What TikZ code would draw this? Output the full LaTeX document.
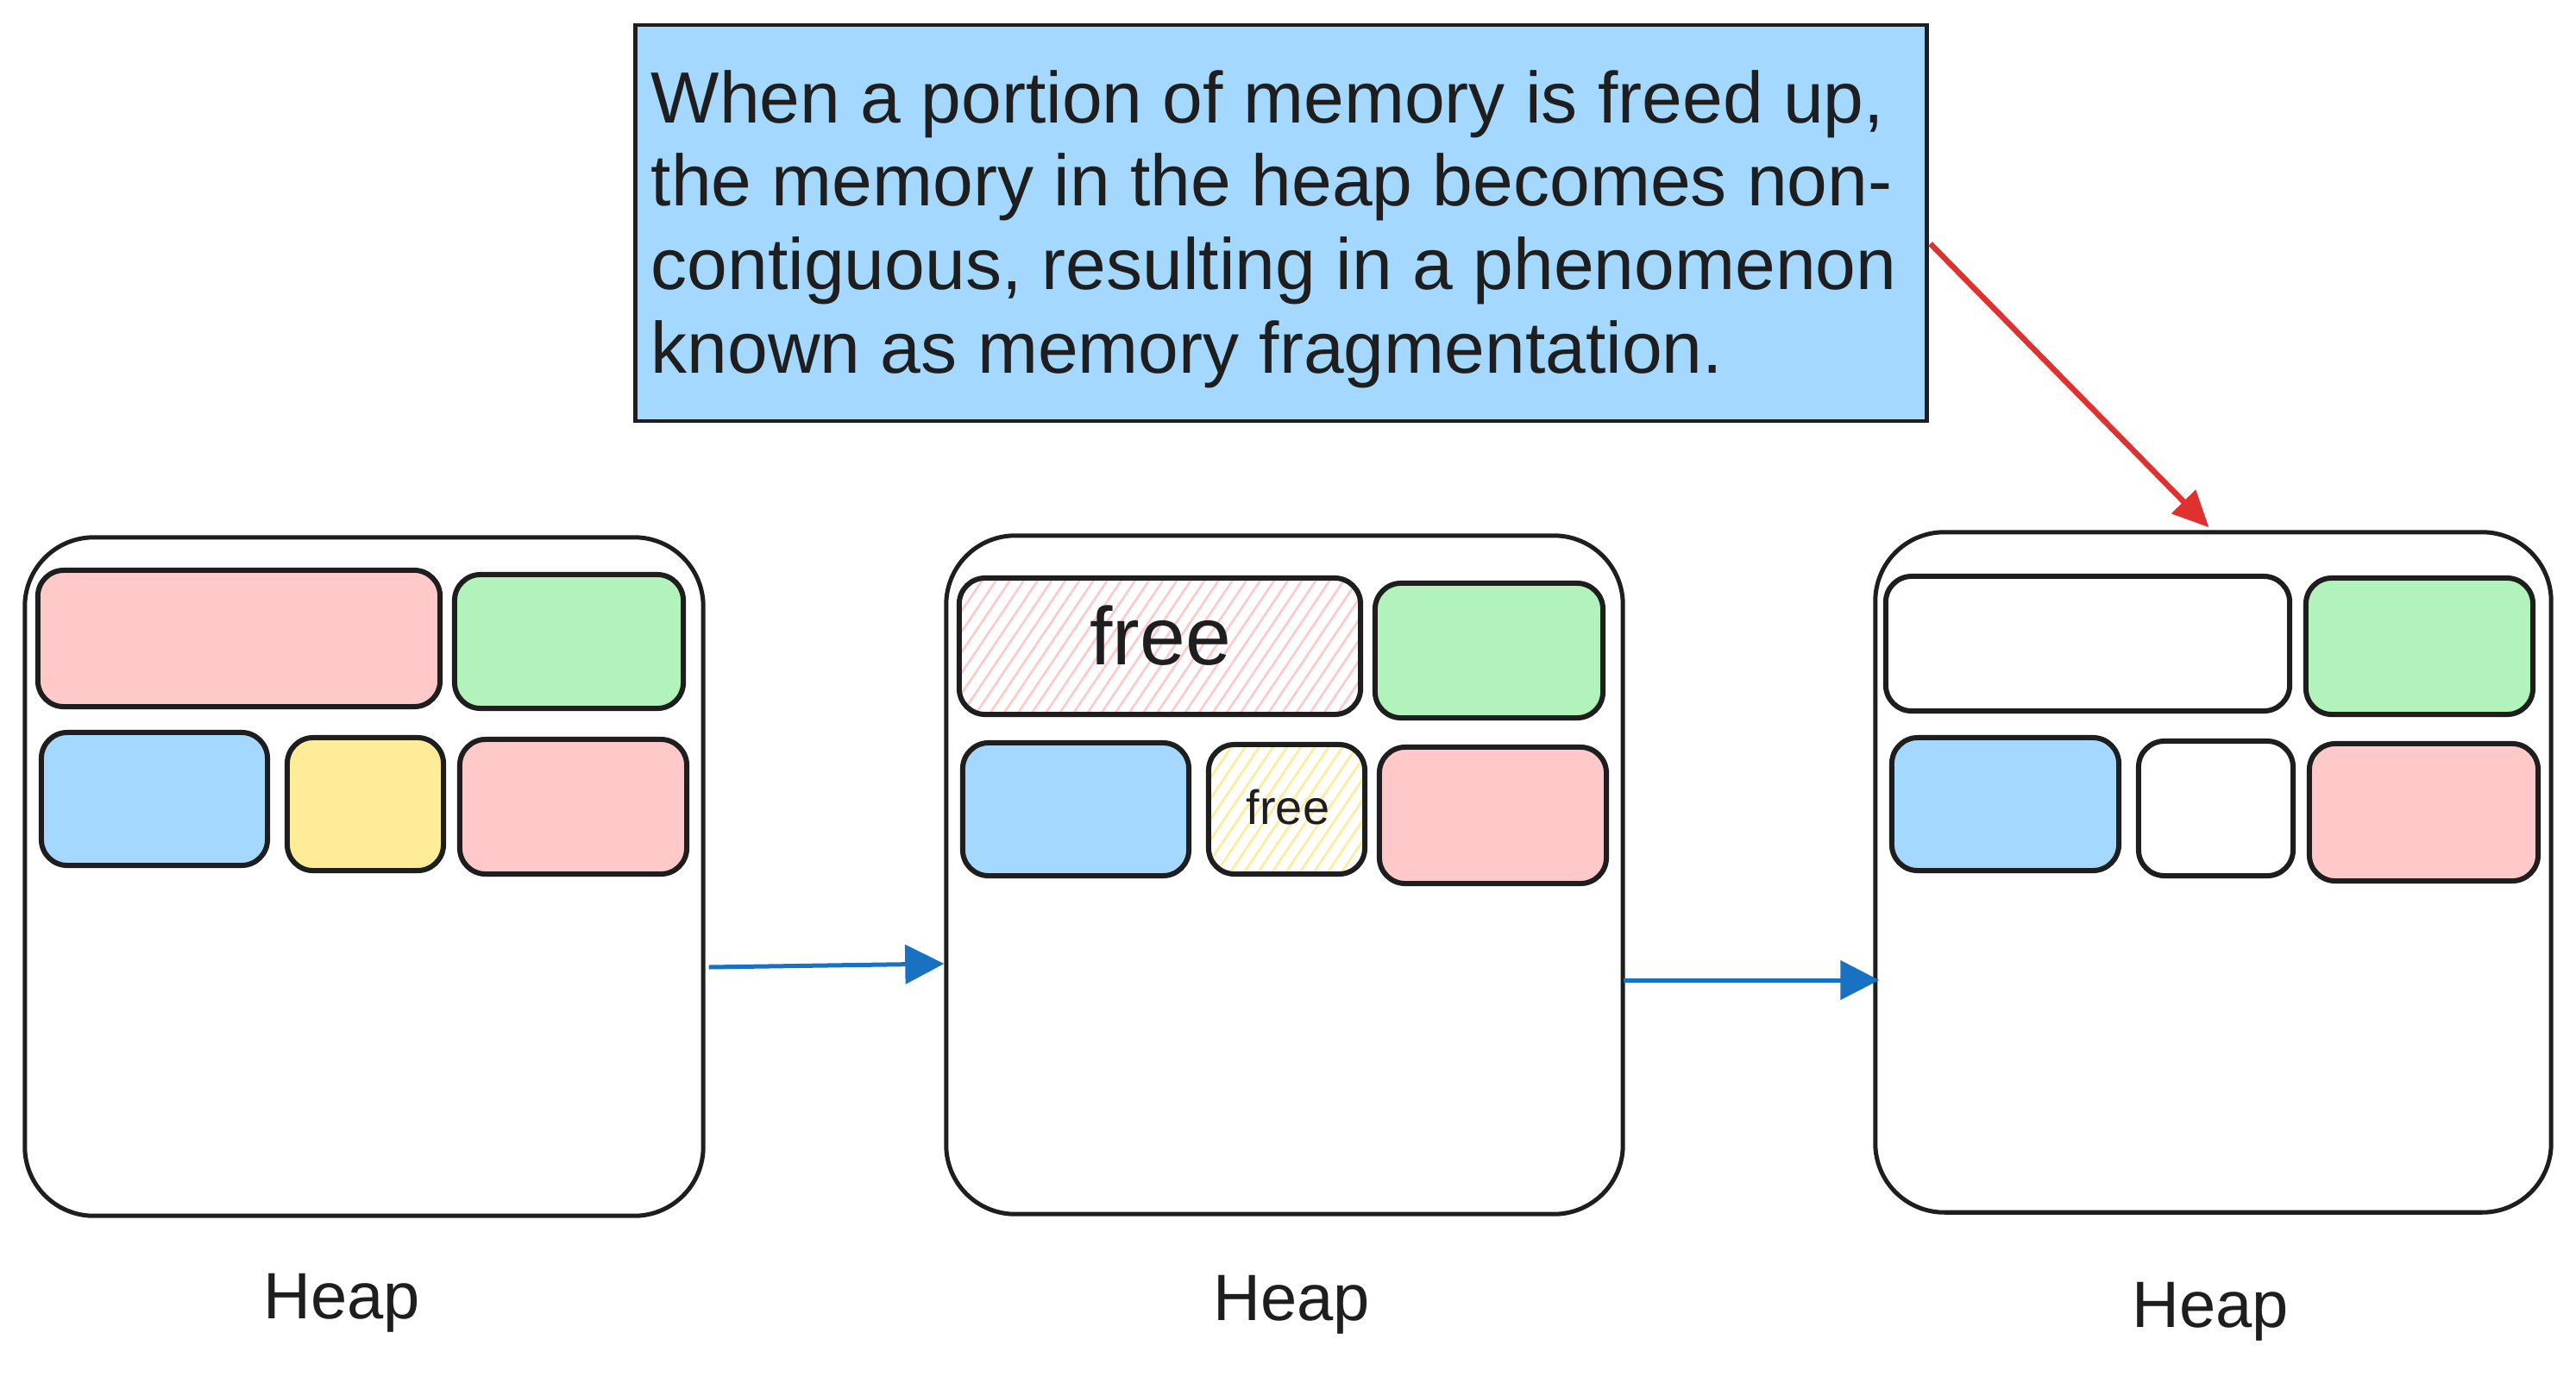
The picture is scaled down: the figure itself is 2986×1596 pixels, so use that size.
\documentclass[tikz,border=0pt]{standalone}
\usepackage{fontspec}
\setmainfont{Liberation Sans}
\usetikzlibrary{arrows.meta,patterns.meta,calc}
\definecolor{ink}{HTML}{1E1E1E}
\definecolor{cpink}{HTML}{FFC9C9}
\definecolor{cgreen}{HTML}{B2F2BB}
\definecolor{cblue}{HTML}{A5D8FF}
\definecolor{cyellow}{HTML}{FFEC99}
\definecolor{ablue}{HTML}{1971C2}
\definecolor{ared}{HTML}{E03131}
\begin{document}
\begin{tikzpicture}[x=0.01cm,y=-0.01cm,
  heapbox/.style={draw=ink,line width=0.05cm,rounded corners=0.8cm,rectangle,inner sep=0pt,fill=white},
  blockbox/.style={draw=ink,line width=0.06cm,rounded corners=0.3cm,rectangle,inner sep=0pt},
  notebox/.style={draw=ink,line width=0.045cm,fill=cblue,rectangle,inner sep=0pt},
  notetext/.style={anchor=base west,inner sep=0pt,text=ink,font=\fontsize{23.9pt}{27.6pt}\selectfont},
  heaplabel/.style={anchor=base,inner sep=0pt,text=ink,font=\fontsize{21.6pt}{24pt}\selectfont},
  freebig/.style={anchor=base,inner sep=0pt,text=ink,font=\fontsize{27pt}{30pt}\selectfont},
  freesmall/.style={anchor=base,inner sep=0pt,text=ink,font=\fontsize{15.9pt}{18pt}\selectfont},
  hatchpink/.style={pattern={Lines[angle=56,distance=3.8pt,line width=0.75pt]},pattern color=cpink},
  hatchyellow/.style={pattern={Lines[angle=56,distance=3.8pt,line width=0.75pt]},pattern color=cyellow},
  bluearrow/.style={draw=ablue,line width=0.05cm,-{Triangle[length=0.45cm,width=0.45cm]}},
  redarrow/.style={draw=ared,line width=0.065cm,-{Triangle[length=0.42cm,width=0.38cm]}}
]
\useasboundingbox[fill=white] (0,0) rectangle (2986,1596);

% callout
\node[notebox,minimum width=14.96cm,minimum height=4.59cm] (note) at (1485,258.5) {};
\node[notetext] (t1) at (754,142) {When a portion of memory is freed up,};
\node[notetext] (t2) at (754,238) {the memory in the heap becomes non-};
\node[notetext] (t3) at (754,335) {contiguous, resulting in a phenomenon};
\node[notetext] (t4) at (754,432) {known as memory fragmentation.};

% heap 1
\node[heapbox,minimum width=7.86cm,minimum height=7.86cm] (h1) at (422,1016) {};
\node[blockbox,fill=cpink,minimum width=4.66cm,minimum height=1.58cm] (h1a) at (277,740) {};
\node[blockbox,fill=cgreen,minimum width=2.65cm,minimum height=1.55cm] (h1b) at (659.5,743.5) {};
\node[blockbox,fill=cblue,minimum width=2.62cm,minimum height=1.54cm] (h1c) at (179,926) {};
\node[blockbox,fill=cyellow,minimum width=1.81cm,minimum height=1.54cm] (h1d) at (423.5,932) {};
\node[blockbox,fill=cpink,minimum width=2.63cm,minimum height=1.56cm] (h1e) at (664.5,935) {};
\node[heaplabel] (l1) at (396,1528) {Heap};

% heap 2
\node[heapbox,minimum width=7.84cm,minimum height=7.86cm] (h2) at (1489,1014) {};
\node[blockbox,hatchpink,minimum width=4.65cm,minimum height=1.58cm] (h2a) at (1344.5,749) {};
\node[blockbox,fill=cgreen,minimum width=2.64cm,minimum height=1.56cm] (h2b) at (1726,754) {};
\node[blockbox,fill=cblue,minimum width=2.62cm,minimum height=1.54cm] (h2c) at (1247,938) {};
\node[blockbox,hatchyellow,minimum width=1.81cm,minimum height=1.50cm] (h2d) at (1491.5,938) {};
\node[blockbox,fill=cpink,minimum width=2.63cm,minimum height=1.58cm] (h2e) at (1730.5,945) {};
\node[freebig] (f1) at (1345,770) {free};
\node[freesmall] (f2) at (1493,955) {free};
\node[heaplabel] (l2) at (1497,1530) {Heap};

% heap 3
\node[heapbox,minimum width=7.83cm,minimum height=7.88cm] (h3) at (2565.5,1011) {};
\node[blockbox,fill=white,minimum width=4.68cm,minimum height=1.56cm] (h3a) at (2420,746) {};
\node[blockbox,fill=cgreen,minimum width=2.63cm,minimum height=1.58cm] (h3b) at (2804.5,749) {};
\node[blockbox,fill=cblue,minimum width=2.63cm,minimum height=1.54cm] (h3c) at (2324.5,932) {};
\node[blockbox,fill=white,minimum width=1.79cm,minimum height=1.56cm] (h3d) at (2568.5,937) {};
\node[blockbox,fill=cpink,minimum width=2.65cm,minimum height=1.59cm] (h3e) at (2809.5,941.5) {};
\node[heaplabel] (l3) at (2562,1538) {Heap};

% connectors
\draw[bluearrow] ($(h1.east)+(4,105)$) -- ($(h2.west)+(0,103)$);
\draw[bluearrow] ($(h2.east)+(-2,122)$) -- ($(h3.west)+(7,125)$);
\draw[redarrow] ($(note.east)+(2,24)$) -- ($(h3.north)+(-5,-3)$);
\end{tikzpicture}
\end{document}
